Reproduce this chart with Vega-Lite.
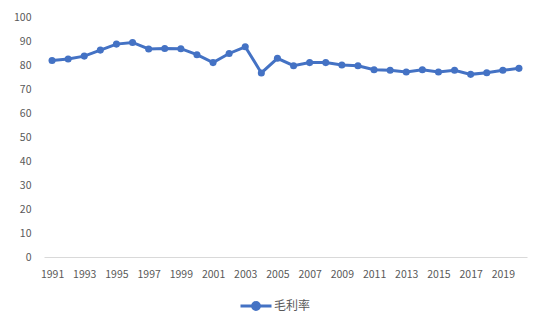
{
  "$schema": "https://vega.github.io/schema/vega-lite/v6.json",
  "autosize": {"type": "none"},
  "width": 483,
  "height": 240,
  "padding": {"left": 44, "top": 17, "right": 23, "bottom": 72},
  "background": "white",
  "config": {
    "view": {"stroke": null},
    "font": "Noto Sans CJK SC"
  },
  "data": {
    "values": [
      {"year": 1991, "rate": 81.9},
      {"year": 1992, "rate": 82.5},
      {"year": 1993, "rate": 83.7},
      {"year": 1994, "rate": 86.2},
      {"year": 1995, "rate": 88.7},
      {"year": 1996, "rate": 89.4},
      {"year": 1997, "rate": 86.7},
      {"year": 1998, "rate": 86.9},
      {"year": 1999, "rate": 86.8},
      {"year": 2000, "rate": 84.3},
      {"year": 2001, "rate": 81.0},
      {"year": 2002, "rate": 84.8},
      {"year": 2003, "rate": 87.6},
      {"year": 2004, "rate": 76.7},
      {"year": 2005, "rate": 82.8},
      {"year": 2006, "rate": 79.7},
      {"year": 2007, "rate": 81.0},
      {"year": 2008, "rate": 81.0},
      {"year": 2009, "rate": 80.0},
      {"year": 2010, "rate": 79.7},
      {"year": 2011, "rate": 78.0},
      {"year": 2012, "rate": 77.8},
      {"year": 2013, "rate": 77.1},
      {"year": 2014, "rate": 78.0},
      {"year": 2015, "rate": 77.1},
      {"year": 2016, "rate": 77.8},
      {"year": 2017, "rate": 76.1},
      {"year": 2018, "rate": 76.8},
      {"year": 2019, "rate": 77.8},
      {"year": 2020, "rate": 78.6}
    ]
  },
  "mark": {
    "type": "line",
    "strokeWidth": 3,
    "point": {"filled": true, "size": 50}
  },
  "encoding": {
    "x": {
      "field": "year",
      "type": "ordinal",
      "scale": {"type": "point", "padding": 0.5},
      "axis": {
        "title": null,
        "values": [1991, 1993, 1995, 1997, 1999, 2001, 2003, 2005, 2007, 2009, 2011, 2013, 2015, 2017, 2019],
        "labelAngle": 0,
        "ticks": false,
        "domainColor": "#D9D9D9",
        "domainWidth": 1,
        "labelColor": "#595959",
        "labelFontSize": 10.5,
        "labelPadding": 12,
        "grid": false
      }
    },
    "y": {
      "field": "rate",
      "type": "quantitative",
      "scale": {"domain": [0, 100], "nice": false},
      "axis": {
        "title": null,
        "values": [0, 10, 20, 30, 40, 50, 60, 70, 80, 90, 100],
        "domain": false,
        "ticks": false,
        "grid": false,
        "labelColor": "#595959",
        "labelFontSize": 10.5,
        "labelPadding": 13
      }
    },
    "color": {
      "datum": "毛利率",
      "scale": {"domain": ["毛利率"], "range": ["#4472C4"]},
      "legend": {
        "title": null,
        "orient": "none",
        "legendX": 195,
        "legendY": 272,
        "symbolType": "M -1 0 L 1 0 M 0.22 0 A 0.22 0.22 0 1 1 -0.22 0 A 0.22 0.22 0 1 1 0.22 0 Z",
        "symbolSize": 961,
        "symbolStrokeWidth": 3,
        "labelFontSize": 12,
        "labelColor": "#595959",
        "labelOffset": 1,
        "encode": {
          "symbols": {
            "update": {
              "fill": {"value": "#4472C4"},
              "stroke": {"value": "#4472C4"},
              "strokeWidth": {"value": 3}
            }
          }
        }
      }
    }
  }
}
